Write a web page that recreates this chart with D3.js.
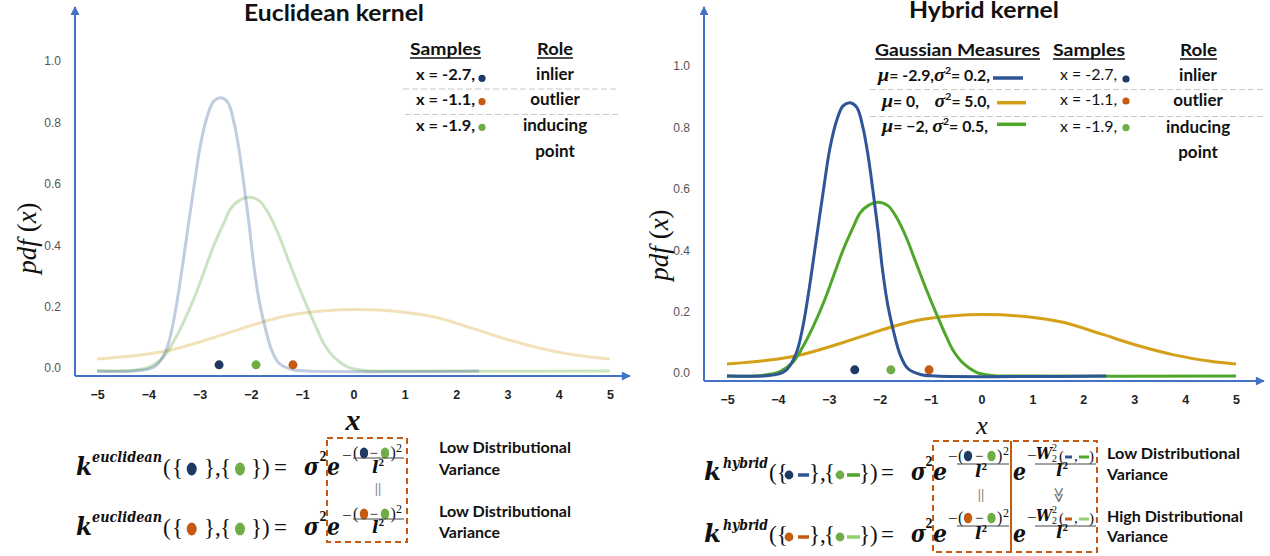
<!DOCTYPE html>
<html><head><meta charset="utf-8">
<script src="https://cdn.jsdelivr.net/npm/d3@7"></script>
<style>body{margin:0;background:#fff}svg{display:block}</style>
</head><body>
<svg id="c" width="1270" height="556"></svg>
<script>
// ---------------- data ----------------
const xTicks = [-5,-4,-3,-2,-1,0,1,2,3,4,5];
const yTicks = [0,0.2,0.4,0.6,0.8,1.0];
// points: [x, pdf]
const curveOrange = [[-5,0.039],[-4.2,0.051],[-3.5,0.071],[-2.7,0.11],[-2.0,0.148],[-1.3,0.18],[-0.55,0.196],[0.05,0.2],[0.9,0.193],[1.6,0.175],[2.35,0.137],[3.05,0.10],[3.8,0.068],[4.5,0.048],[5,0.039]];
const curveGreen = [[-5,0],[-4.3,0.002],[-3.96,0.014],[-3.7,0.046],[-3.51,0.095],[-3.31,0.16],[-3.11,0.236],[-2.92,0.32],[-2.72,0.41],[-2.52,0.485],[-2.39,0.53],[-2.23,0.555],[-2.03,0.566],[-1.84,0.555],[-1.67,0.517],[-1.48,0.452],[-1.28,0.366],[-1.08,0.28],[-0.89,0.204],[-0.69,0.128],[-0.56,0.084],[-0.35,0.04],[-0.1,0.012],[0.2,0.002],[0.6,0],[5,0]];
const curveBlue = [[-5,0],[-4.3,0],[-4.0,0.006],[-3.83,0.02],[-3.64,0.074],[-3.51,0.16],[-3.38,0.29],[-3.25,0.44],[-3.11,0.60],[-2.98,0.74],[-2.85,0.83],[-2.72,0.88],[-2.58,0.89],[-2.45,0.875],[-2.33,0.81],[-2.23,0.72],[-2.13,0.60],[-2.03,0.47],[-1.94,0.34],[-1.84,0.23],[-1.72,0.14],[-1.6,0.07],[-1.45,0.025],[-1.2,0.005],[-0.9,0],[2.45,0]];
const sampleLabels = ["x = -2.7,","x = -1.1,","x = -1.9,"];
const roles = ["inlier","outlier","inducing"];
const samplesLeft = [-2.62,-1.18,-1.90];
const samplesRight = [-2.49,-1.03,-1.78];
const sampleY = 0.02;
const measureLabels = [["-2.9,","0.2,"],["0,","5.0,"],["\u22122,","0.5,"]];

const C = {axis:"#4472c4", blue:"#2f5597", gold:"#d4a017", green:"#4ea72a", lgreen:"#92cf6e",
  dNavy:"#203864", dOrange:"#c55a11", dGreen:"#70ad47", box:"#c55a11"};
const curveColors = [C.gold, C.green, C.blue];
const curves = [curveOrange, curveGreen, curveBlue];
const dotColors = [C.dNavy, C.dOrange, C.dGreen];

const svg = d3.select("#c");
const defs = svg.append("defs");
defs.append("marker").attr("id","arr").attr("viewBox","0 0 10 10").attr("refX",9).attr("refY",5)
  .attr("markerWidth",11).attr("markerHeight",9).attr("markerUnits","userSpaceOnUse").attr("orient","auto")
  .append("path").attr("d","M0,0L10,5L0,10z").attr("fill",C.axis);

const SANS = "Lato, 'Liberation Sans', sans-serif";
const SERIF = "'DejaVu Serif', 'Liberation Serif', serif";
const TSERIF = "'Liberation Serif', serif";

function txt(g, x, y, s, o={}) {
  const t = g.append("text").attr("x",x).attr("y",y).text(s)
    .attr("font-family", o.ff||SANS).attr("font-size", o.fs||14)
    .attr("font-weight", o.fw||"normal").attr("font-style", o.it?"italic":"normal")
    .attr("fill", o.fill||"#111").attr("text-anchor", o.anchor||"start");
  if (o.len) t.attr("textLength", o.len).attr("lengthAdjust","spacingAndGlyphs");
  return t;
}

function panel(cfg) {
  const x = d3.scaleLinear().domain([-5,5]).range([cfg.x0, cfg.x1]);
  const y = d3.scaleLinear().domain([0,1]).range([cfg.yb, cfg.yt]);
  const g = svg.append("g");
  g.append("line").attr("x1",cfg.ax).attr("y1",cfg.ay).attr("x2",cfg.ax).attr("y2",cfg.atop)
    .attr("stroke",C.axis).attr("stroke-width",2).attr("marker-end","url(#arr)");
  g.append("line").attr("x1",cfg.ax).attr("y1",cfg.ay).attr("x2",cfg.aright).attr("y2",cfg.ay)
    .attr("stroke",C.axis).attr("stroke-width",2).attr("marker-end","url(#arr)");
  const xa = g.append("g").attr("transform",`translate(0,${cfg.ay})`)
    .call(d3.axisBottom(x).tickValues(xTicks).tickSize(0).tickPadding(14));
  xa.select(".domain").remove();
  xa.selectAll("text").attr("font-family","'Liberation Sans', Arial, sans-serif").attr("font-size",12.5)
    .attr("font-weight","bold").attr("fill","#222");
  const ya = g.append("g").attr("transform",`translate(${cfg.ax},-3)`)
    .call(d3.axisLeft(y).tickValues(yTicks).tickFormat(d3.format(".1f")).tickSize(0).tickPadding(14));
  ya.select(".domain").remove();
  ya.selectAll("text").attr("font-family","'Liberation Sans', Arial, sans-serif").attr("font-size",12)
    .attr("fill","#555");
  const line = d3.line().x(d=>x(d[0])).y(d=>y(d[1])).curve(d3.curveCatmullRom.alpha(0.5));
  curves.forEach((c,i)=>{
    g.append("path").attr("d",line(c)).attr("fill","none").attr("stroke",curveColors[i])
      .attr("stroke-width",3).attr("stroke-opacity",cfg.op).attr("stroke-linejoin","round");
  });
  g.selectAll("circle.s").data(cfg.samples).join("circle").attr("class","s")
    .attr("cx",d=>x(d)).attr("cy",y(sampleY)).attr("r",4.5).attr("fill",(d,i)=>dotColors[i]);
  txt(g, cfg.tx, cfg.ty, cfg.title, {fs:23, fw:"bold", anchor:"middle", len:cfg.tlen});
  const p = g.append("text").attr("transform",`translate(${cfg.px},${cfg.py}) rotate(-90)`)
    .attr("text-anchor","middle").attr("font-family",TSERIF).attr("font-size",27).attr("fill","#111");
  p.append("tspan").attr("font-style","italic").text("pdf");
  p.append("tspan").text(" (");
  p.append("tspan").attr("font-style","italic").text("x");
  p.append("tspan").text(")");
  txt(g, cfg.xlx, cfg.xly, "x", {ff:TSERIF, fs:cfg.xlfs, it:true, fw:cfg.xlfw, anchor:"middle"});
  return {g,x,y};
}

const L = panel({x0:97,x1:610,yb:371,yt:64,ax:75,ay:376,atop:7,aright:630,op:0.3,
  samples:samplesLeft, title:"Euclidean kernel", tx:334, ty:21, tlen:180, px:36, py:238,
  xlx:353, xly:430, xlfs:30, xlfw:"bold"});
const R = panel({x0:727,x1:1236,yb:376,yt:69,ax:704,ay:381,atop:7,aright:1264,op:1,
  samples:samplesRight, title:"Hybrid kernel", tx:984, ty:18, tlen:150, px:668, py:245,
  xlx:982, xly:434, xlfs:26, xlfw:"normal"});

// ---------------- legends ----------------
function header(g, x, y, s, len) {
  txt(g, x, y, s, {fs:17, fw:"bold", len:len});
  g.append("line").attr("x1",x).attr("x2",x+len).attr("y1",y+3).attr("y2",y+3).attr("stroke","#111").attr("stroke-width",1.3);
}
const lg = svg.append("g");
header(lg, 410, 55, "Samples", 71);
header(lg, 537, 55, "Role", 36);
const rowY = [80, 105, 131];
const dotY = [78.3, 101.7, 127.3];
sampleLabels.forEach((s,i)=>{
  txt(lg, 416, rowY[i], s, {fs:15, fw:"bold", len:59});
  lg.append("circle").attr("cx",482).attr("cy",dotY[i]).attr("r",3.6).attr("fill",dotColors[i]);
  txt(lg, 555, rowY[i], roles[i], {fs:17, fw:"bold", anchor:"middle"});
});
txt(lg, 555, 156.5, "point", {fs:17, fw:"bold", anchor:"middle"});
[[89,403,617],[114.5,405,618]].forEach(d=>lg.append("line").attr("x1",d[1]).attr("x2",d[2]).attr("y1",d[0]).attr("y2",d[0])
  .attr("stroke","#c8c8c8").attr("stroke-width",1).attr("stroke-dasharray","6,3"));

const rg = svg.append("g");
header(rg, 875, 56, "Gaussian Measures", 165);
header(rg, 1053, 56, "Samples", 72);
header(rg, 1180, 56, "Role", 37);
[[89.5,870,1264],[116.5,870,1264]].forEach(d=>rg.append("line").attr("x1",d[1]).attr("x2",d[2]).attr("y1",d[0]).attr("y2",d[0])
  .attr("stroke","#c8c8c8").attr("stroke-width",1).attr("stroke-dasharray","6,3"));
const mRowY = [81, 106.5, 131.5];
const mX = [878, 882, 882];
const mLen = [112, 108, 106];
const mLineY = [78, 102.7, 124.3];
const mLineX = [[993,1023],[997,1026],[997,1026]];
const mColors = [C.blue, C.gold, C.green];
const spacers = ["", "\u2002\u2002", " "];
measureLabels.forEach((m,i)=>{
  const t = rg.append("text").attr("x",mX[i]).attr("y",mRowY[i]).attr("fill","#111")
    .attr("font-family",SANS).attr("font-size",15).attr("font-weight","bold")
    .attr("textLength",mLen[i]).attr("lengthAdjust","spacingAndGlyphs");
  t.append("tspan").attr("font-family",TSERIF).attr("font-style","italic").attr("font-size",19).text("\u03bc");
  t.append("tspan").text("= "+m[0]+spacers[i]);
  t.append("tspan").attr("font-family",TSERIF).attr("font-style","italic").attr("font-size",19).text("\u03c3");
  t.append("tspan").attr("font-size",10).attr("dy",-7).text("2");
  t.append("tspan").attr("dy",7).text("= "+m[1]);
  rg.append("line").attr("x1",mLineX[i][0]).attr("x2",mLineX[i][1]).attr("y1",mLineY[i]).attr("y2",mLineY[i])
    .attr("stroke",mColors[i]).attr("stroke-width",3.5);
});
const sRowY = [80, 105, 132];
const sDotY = [79, 101, 127.7];
sampleLabels.forEach((s,i)=>{
  txt(rg, 1060, sRowY[i], s, {fs:15, len:57});
  rg.append("circle").attr("cx",1126).attr("cy",sDotY[i]).attr("r",3.6).attr("fill",dotColors[i]);
  txt(rg, 1198, sRowY[i]+0.5, roles[i], {fs:17, fw:"bold", anchor:"middle"});
});
txt(rg, 1198, 157.5, "point", {fs:17, fw:"bold", anchor:"middle"});

// ---------------- formulas ----------------
const fg = svg.append("g");
function ell(g,cx,cy,col,rx=5,ry=6.5){ g.append("ellipse").attr("cx",cx).attr("cy",cy).attr("rx",rx).attr("ry",ry).attr("fill",col); }
function dash(g,x1,x2,y,col,w=3.5){ g.append("line").attr("x1",x1).attr("x2",x2).attr("y1",y).attr("y2",y).attr("stroke",col).attr("stroke-width",w); }
function bar(g,x1,x2,y){ g.append("line").attr("x1",x1).attr("x2",x2).attr("y1",y).attr("y2",y).attr("stroke","#444").attr("stroke-width",1); }
const mb = {ff:SERIF, fw:"bold", it:true};
const rm = {ff:TSERIF};

const leftFirst = [C.dNavy, C.dOrange];
[0,1].forEach(r=>{
  const B = 475 + r*60;
  txt(fg, 76, B, "k", {...mb, fs:24, len:16});
  txt(fg, 92, B-13, "euclidean", {...mb, fs:14, len:70});
  txt(fg, 163, B, "(", {...rm, fs:23});
  txt(fg, 172, B, "{", {...rm, fs:23});
  ell(fg, 191.7, B-6, leftFirst[r]);
  txt(fg, 204, B, "},", {...rm, fs:23});
  txt(fg, 220, B, "{", {...rm, fs:23});
  ell(fg, 240, B-6, C.dGreen);
  txt(fg, 251, B, "})", {...rm, fs:23});
  txt(fg, 274, B, "=", {...rm, fs:23});
  txt(fg, 304, B, "\u03c3", {...mb, fs:25, len:15});
  txt(fg, 319.5, B-14, "2", {ff:TSERIF, fw:"bold", fs:14});
  txt(fg, 327, B, "e", {...mb, fs:24, len:13});
  txt(fg, 342, B-14, "\u2212", {...rm, fs:17});
  const N = B - 22 + (r?1:0);
  txt(fg, 353, N+5, "(", {...rm, fs:16});
  ell(fg, 364, N, leftFirst[r], 4.2, 5.5);
  txt(fg, 369.5, N+5, "\u2212", {...rm, fs:15});
  ell(fg, 385, N, C.dGreen, 4.2, 5.5);
  txt(fg, 390.5, N+5, ")", {...rm, fs:16});
  txt(fg, 396, N-1, "2", {ff:TSERIF, fs:12});
  bar(fg, 353, 404, B-17 + (r?1:0));
  txt(fg, 372, B-2, "l", {...mb, fs:17});
  txt(fg, 378.5, B-9, "2", {ff:TSERIF, fw:"bold", fs:11});
  txt(fg, 439, 453 + r*64, "Low Distributional", {fs:15.5, fw:"bold", len:132});
  txt(fg, 439, 475 + r*63, "Variance", {fs:15.5, fw:"bold", len:61});
});
fg.append("rect").attr("x",327).attr("y",438).attr("width",80).attr("height",104).attr("fill","none")
  .attr("stroke",C.box).attr("stroke-width",2).attr("stroke-dasharray","6,4");
txt(fg, 378, 494, "||", {fs:13, fill:"#777", anchor:"middle"});

const rFirstDot = [C.dNavy, C.dOrange];
const rFirstDash = [C.blue, C.dOrange];
const rSecondDash = [C.green, C.lgreen];
[0,1].forEach(r=>{
  const B = 480 + r*62;
  txt(fg, 704, B, "k", {...mb, fs:24, len:17});
  txt(fg, 723, B-12, "hybrid", {...mb, fs:14, len:45});
  txt(fg, 769, B, "({", {...rm, fs:23});
  fg.append("circle").attr("cx",789).attr("cy",B-5).attr("r",4.4).attr("fill",rFirstDot[r]);
  dash(fg, 798, 809, B-5, rFirstDash[r]);
  txt(fg, 809, B, "},", {...rm, fs:23});
  txt(fg, 824, B, "{", {...rm, fs:23});
  fg.append("circle").attr("cx",840).attr("cy",B-5).attr("r",4.4).attr("fill",C.dGreen);
  dash(fg, 847, 860, B-5, rSecondDash[r]);
  txt(fg, 859, B, "})", {...rm, fs:23});
  txt(fg, 881, B, "=", {...rm, fs:23});
  txt(fg, 911, B, "\u03c3", {...mb, fs:25, len:15});
  txt(fg, 925.5, B-14, "2", {ff:TSERIF, fw:"bold", fs:14});
  txt(fg, 933, B, "e", {...mb, fs:24, len:14});
  txt(fg, 948, B-18, "\u2212", {...rm, fs:17});
  const N = B - 24;
  txt(fg, 958, N+5, "(", {...rm, fs:16});
  ell(fg, 968, N, rFirstDot[r], 4.2, 5.3);
  txt(fg, 975, N+5, "\u2212", {...rm, fs:15});
  ell(fg, 991.5, N, C.dGreen, 4.2, 5.3);
  txt(fg, 997, N+5, ")", {...rm, fs:16});
  txt(fg, 1003, N-1, "2", {ff:TSERIF, fs:12});
  bar(fg, 957, 1009, B-16);
  txt(fg, 975, B-3, "l", {...mb, fs:17});
  txt(fg, 981.5, B-10, "2", {ff:TSERIF, fw:"bold", fs:11});
  txt(fg, 1013, B, "e", {...mb, fs:24, len:13});
  txt(fg, 1027, B-19, "\u2212", {...rm, fs:17});
  txt(fg, 1036, N+3, "W", {...mb, fs:16, len:16});
  txt(fg, 1052, N-5, "2", {ff:TSERIF, fs:10});
  txt(fg, 1052, N+6, "2", {ff:TSERIF, fs:10});
  txt(fg, 1059, N+5, "(", {...rm, fs:15});
  dash(fg, 1065, 1072, N+1, rFirstDash[r], 3);
  txt(fg, 1074, N+5, ",", {...rm, fs:15});
  dash(fg, 1079, 1089, N+1, rSecondDash[r], 3);
  txt(fg, 1089, N+5, ")", {...rm, fs:15});
  bar(fg, 1035, 1096, B-16);
  txt(fg, 1056, B-4, "l", {...mb, fs:17});
  txt(fg, 1062.5, B-11, "2", {ff:TSERIF, fw:"bold", fs:11});
});
fg.append("rect").attr("x",933).attr("y",441).attr("width",164).attr("height",111).attr("fill","none")
  .attr("stroke",C.box).attr("stroke-width",2).attr("stroke-dasharray","6,4");
fg.append("line").attr("x1",1011).attr("x2",1011).attr("y1",441).attr("y2",552).attr("stroke",C.box).attr("stroke-width",2);
txt(fg, 981, 500, "||", {fs:13, fill:"#777", anchor:"middle"});
fg.append("text").attr("transform","translate(1059,495) rotate(90)").attr("text-anchor","middle").attr("dy","0.35em")
  .attr("font-family","'DejaVu Sans', sans-serif").attr("font-size",15).attr("fill","#777").text("\u226b");
txt(fg, 1107, 459, "Low Distributional", {fs:15.5, fw:"bold", len:133});
txt(fg, 1107, 480, "Variance", {fs:15.5, fw:"bold", len:61});
txt(fg, 1107, 522, "High Distributional", {fs:15.5, fw:"bold", len:136});
txt(fg, 1107, 542, "Variance", {fs:15.5, fw:"bold", len:61});
</script>
</body></html>
